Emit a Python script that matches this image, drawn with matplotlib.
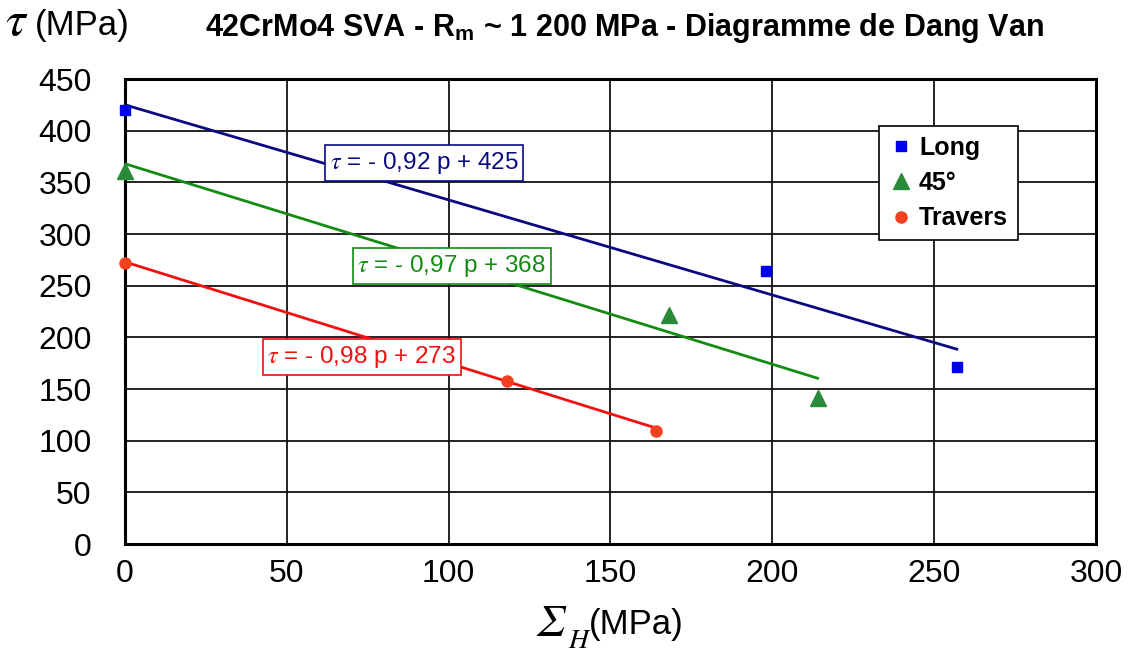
import matplotlib
matplotlib.use("Agg")
import matplotlib.pyplot as plt
import numpy as np

plt.rcParams['font.family'] = ['Liberation Sans', 'DejaVu Sans']
plt.rcParams['mathtext.fontset'] = 'stix'

# Data
long_x = [0, 198, 257]
long_y = [420, 264, 171]
d45_x = [0, 168, 214]
d45_y = [361, 222, 141]
trav_x = [0, 118, 164]
trav_y = [272, 158, 109]

series_names = ["Long", "45°", "Travers"]
slopes = [-0.92, -0.97, -0.98]
intercepts = [425, 368, 273]
eq_labels = ["= - 0,92 p + 425", "= - 0,97 p + 368", "= - 0,98 p + 273"]

x_ticks = [0, 50, 100, 150, 200, 250, 300]
y_ticks = [0, 50, 100, 150, 200, 250, 300, 350, 400, 450]

line_colors = ["#0a0a80", "#128c12", "#f01010"]
marker_colors = ["#0000ee", "#2a8a3a", "#f04020"]
markers = ["s", "^", "o"]
msizes = [7, 12, 8]

fig = plt.figure(figsize=(11.31, 6.59), dpi=100)
ax = fig.add_axes([0.1105, 0.1745, 0.8585, 0.7056])

xs = [long_x, d45_x, trav_x]
ys = [long_y, d45_y, trav_y]
for i in range(3):
    xx = np.array([0, max(xs[i])])
    ax.plot(xx, slopes[i] * xx + intercepts[i], color=line_colors[i], lw=2.0, zorder=3)
for i in range(3):
    ax.plot(xs[i], ys[i], linestyle='none', marker=markers[i], ms=msizes[i],
            color=marker_colors[i], mec=marker_colors[i], label=series_names[i], zorder=4,
            clip_on=False)

ax.set_xlim(0, 300)
ax.set_ylim(0, 450)
ax.set_xticks(x_ticks)
ax.set_yticks(y_ticks)
ax.grid(True, color='#111111', lw=1.3)
ax.set_axisbelow(True)
for s in ax.spines.values():
    s.set_linewidth(2.2)
    s.set_color('black')
ax.tick_params(axis='both', length=0, labelsize=23)
ax.tick_params(axis='y', pad=24)
ax.tick_params(axis='x', pad=11)

# Equation boxes
eq_pos = [(92.4, 368.7), (101, 269), (73.2, 181)]
for i in range(3):
    ax.text(eq_pos[i][0], eq_pos[i][1], r'$\tau$ ' + eq_labels[i], color=line_colors[i],
            fontsize=17.5, ha='center', va='center', zorder=5,
            bbox=dict(boxstyle='square,pad=0.2', fc='white', ec=line_colors[i], lw=1.2))

leg = ax.legend(loc='upper left', bbox_to_anchor=(0.7765, 0.899), borderaxespad=0,
                frameon=True, fancybox=False, framealpha=1, edgecolor='black',
                prop={'weight': 'bold', 'size': 18}, handletextpad=0.2, handlelength=1.0,
                borderpad=0.4, labelspacing=0.45)
leg.get_frame().set_linewidth(1.2)

fig.text(0.004, 0.966, r'$\tau$', fontsize=36, ha='left', va='center')
fig.text(0.031, 0.962, '(MPa)', fontsize=25, ha='left', va='center')

fig.text(0.552, 0.958, r'42CrMo4 SVA - R$_\mathregular{m}$ ~ 1 200 MPa - Diagramme de Dang Van',
         fontsize=22, fontweight='bold', ha='center', va='center')

fig.text(0.474, 0.052, 'Σ', fontsize=32, ha='left', va='center',
         family=['STIXGeneral', 'DejaVu Serif'], style='italic')
fig.text(0.502, 0.026, 'H', fontsize=20, ha='left', va='center',
         family=['STIXGeneral', 'DejaVu Serif'], style='italic')
fig.text(0.521, 0.052, '(MPa)', fontsize=25, ha='left', va='center')

fig.savefig('out.png', dpi=100)
